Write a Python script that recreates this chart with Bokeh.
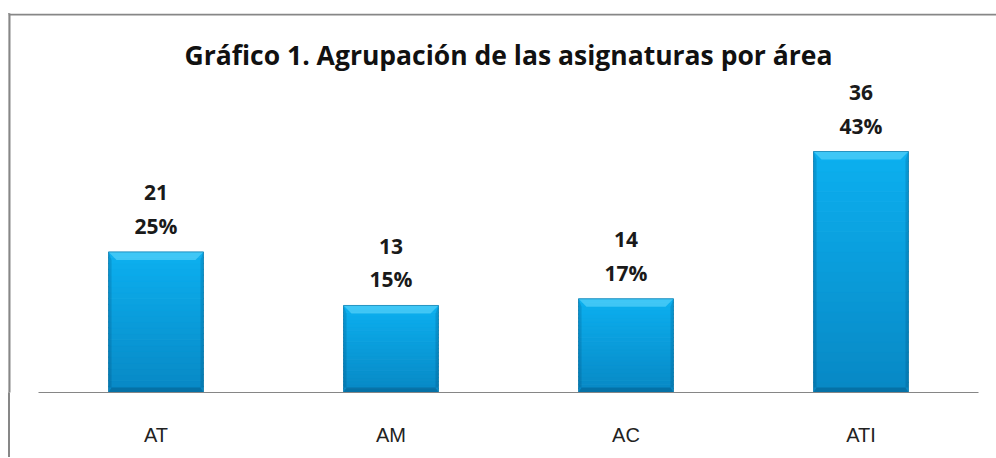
import numpy as np
from bokeh.plotting import figure
from bokeh.models import Range1d, ColumnDataSource, BoxAnnotation, FixedTicker
from bokeh.core.properties import value
from bokeh.embed import file_html
from bokeh.resources import INLINE

# ---- data ----
categories = ["AT", "AM", "AC", "ATI"]
counts = [21, 13, 14, 36]
percents = ["25%", "15%", "17%", "43%"]
title_text = "Gráfico 1. Agrupación de las asignaturas por área"

# ---- layout constants ----
PX = 241.0 / 36.0          # pixels per unit (vertical)
PXC = 235.0                # pixels per category (horizontal)
FRAME_H = 379
BAR_W = 0.404
Y_END = FRAME_H / PX
W, H = 988, 444
LEFT_GAP, RIGHT_GAP = 30.0, 18.0

ncat = len(categories)
xpos = [i + 0.5 for i in range(ncat)]   # category centres on the scale

p = figure(
    x_range=Range1d(-LEFT_GAP / PXC, ncat + RIGHT_GAP / PXC),
    y_range=Range1d(0, Y_END),
    width=W, height=H,
    output_backend="svg", toolbar_location=None,
    min_border_left=0, min_border_right=0, min_border_top=0,
    min_border_bottom=H - FRAME_H,
    styles={"margin-top": "13px", "margin-left": "8px",
            "background-color": "white",
            "background-image": "linear-gradient(#878787, #878787)",
            "background-size": "2px 100%",
            "background-repeat": "no-repeat",
            "background-position": "left top"},
)
p.outline_line_color = None
p.xgrid.visible = False
p.ygrid.visible = False
p.yaxis.visible = False
p.background_fill_color = "white"
p.border_fill_color = None

# chart-area border (left and top edges)
p.add_layout(BoxAnnotation(left=0, right=2, top=-2000, bottom=2000,
                           left_units="canvas", right_units="canvas",
                           top_units="canvas", bottom_units="canvas",
                           fill_color="#878787", fill_alpha=1, line_color=None))
p.add_layout(BoxAnnotation(left=0, right=3000, top=0, bottom=2,
                           left_units="canvas", right_units="canvas",
                           top_units="canvas", bottom_units="canvas",
                           fill_color="#878787", fill_alpha=1, line_color=None))

ax = p.xaxis[0]
ax.ticker = FixedTicker(ticks=xpos)
ax.major_label_overrides = {x: c for x, c in zip(xpos, categories)}
ax.bounds = (0, ncat)
ax.axis_line_color = "#868686"
ax.axis_line_width = 1
ax.major_tick_line_color = None
ax.minor_tick_line_color = None
ax.major_tick_out = 0
ax.major_label_standoff = 31
ax.major_label_text_font = "Liberation Sans"
ax.major_label_text_font_size = "20px"
ax.major_label_text_color = "#222222"

src = ColumnDataSource(dict(x=xpos, top=counts,
                            cnt=[str(c) for c in counts], pct=percents))

# ---- bars: gradient body ----
n = 24
c_bot = np.array([0x08, 0x88, 0xc4])
c_top = np.array([0x0c, 0xb0, 0xf0])
for i in range(n):
    t0 = i / n
    t1 = (i + 1) / n
    col = c_bot + (c_top - c_bot) * ((t0 + t1) / 2)
    hexc = "#%02x%02x%02x" % tuple(int(round(v)) for v in col)
    bottoms = [v * t0 for v in counts]
    tops = [v * t1 + (0.08 if i < n - 1 else 0) for v in counts]
    p.vbar(x=xpos, bottom=bottoms, top=tops, width=BAR_W,
           fill_color=hexc, line_color=hexc, line_width=0.5)

# ---- bevels (computed from the bar values) ----
bt = 8.0   # top bevel px
bs = 3.0   # side bevel px
bb = 5.0   # bottom bevel px
hw = BAR_W / 2
top_x, top_y, side_x, side_y, bot_x, bot_y = [], [], [], [], [], []
for c, v in zip(xpos, counts):
    L, R = c - hw, c + hw
    ty = v - bt / PX
    by = bb / PX
    top_x.append([L, R, R - bt / PXC, L + bt / PXC])
    top_y.append([v, v, ty, ty])
    side_x.append([L, L + bs / PXC, L + bs / PXC, L])
    side_y.append([by, by, ty, v])
    side_x.append([R, R - bs / PXC, R - bs / PXC, R])
    side_y.append([by, by, ty, v])
    bot_x.append([L, R, R - bs / PXC, L + bs / PXC])
    bot_y.append([0, 0, by, by])

p.patches(top_x, top_y, fill_color="#7fe4ff", fill_alpha=0.45, line_color=None)
p.patches(side_x, side_y, fill_color="#003a60", fill_alpha=0.18, line_color=None)
p.patches(bot_x, bot_y, fill_color="#003a60", fill_alpha=0.30, line_color=None)
p.vbar(x=xpos, top=counts, width=BAR_W, fill_color=None,
       line_color="#0a6f9f", line_width=1, line_alpha=0.6)

# ---- labels ----
p.text(x="x", y="top", text="pct", source=src, y_offset=-26,
       text_align="center", text_baseline="middle",
       text_font=value("Open Sans"), text_font_style="bold",
       text_font_size="21px", text_color="#1a1a1a")
p.text(x="x", y="top", text="cnt", source=src, y_offset=-59,
       text_align="center", text_baseline="middle",
       text_font=value("Open Sans"), text_font_style="bold",
       text_font_size="21px", text_color="#1a1a1a")

# ---- title ----
p.text(x=[ncat / 2.0], y=[(FRAME_H - 41) / PX], text=[title_text],
       text_align="center", text_baseline="middle",
       text_font=value("Open Sans"), text_font_style="bold",
       text_font_size="26.5px", text_color="#111111")

open("out.html", "w").write(file_html(p, INLINE))
